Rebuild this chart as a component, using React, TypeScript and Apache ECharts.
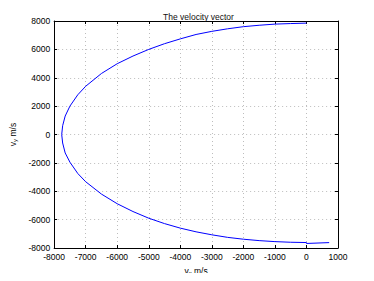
import React, { useEffect, useRef } from "react";
import * as echarts from "echarts";

const titleText = "The velocity vector";
const xTicks = { min: -8000, max: 1000, interval: 1000 };
const yTicks = { min: -8000, max: 8000, interval: 2000 };

const vx = [
  0, -500, -1000, -1500, -2000, -2500, -3000, -3500, -4000, -4500, -5000, -5500, -6000, -6500, -7000, -7250,
  -7500, -7650, -7730, -7760,
  -7730, -7650, -7500, -7250, -7000, -6500, -6000, -5500, -5000, -4500, -4000, -3500, -3000, -2500, -2000,
  -1500, -1000, -500, 0, 0, 720,
];
const vy = [
  7850, 7820, 7780, 7700, 7600, 7450, 7270, 7050, 6740, 6400, 6000, 5530, 4990, 4300, 3400, 2800,
  2000, 1300, 620, 0,
  -600, -1300, -1950, -2750, -3330, -4200, -4880, -5430, -5900, -6280, -6600, -6860, -7070, -7250, -7380,
  -7480, -7550, -7595, -7615, -7680, -7620,
];

const FONT = "'Liberation Sans', Arial, sans-serif";

export default function App() {
  const ref = useRef<HTMLDivElement>(null);
  useEffect(() => {
    if (!ref.current) return;
    const chart = echarts.init(ref.current, null, { renderer: "svg" });
    const data = vx.map((x, i) => [x, vy[i]]);
    const splitLine = { show: true, lineStyle: { color: "#bdbdbd", type: [1, 3] as any, width: 1 } };
    const axisLine = { show: true, onZero: false, lineStyle: { color: "#000", width: 1 } };
    const axisTick = { show: true, inside: true, length: 3, lineStyle: { color: "#000" } };
    const labelStyle = { color: "#000", fontSize: 8.5, fontFamily: FONT, formatter: (v: number) => String(v) };
    const rich = {
      v: { fontSize: 8.5, fontFamily: FONT, color: "#000" },
      s: { fontSize: 6, fontFamily: FONT, color: "#000", verticalAlign: "bottom", padding: [4, 0, 0, 0] },
    };
    chart.setOption({
      animation: false,
      backgroundColor: "#fff",
      title: {
        text: titleText,
        left: 193.5,
        textAlign: "center",
        top: 7,
        textStyle: { fontSize: 8.5, fontWeight: "normal", color: "#111", fontFamily: FONT },
      },
      grid: { left: 49, right: 36, top: 21, bottom: 32, containLabel: false },
      xAxis: [
        {
          type: "value",
          ...xTicks,
          position: "bottom",
          axisLine,
          axisTick,
          splitLine,
          axisLabel: { ...labelStyle, margin: 4 },
          name: "{v|v}{s|x}{v| m/s}",
          nameLocation: "middle",
          nameGap: 18,
          nameTextStyle: { rich },
        },
        {
          type: "value",
          ...xTicks,
          position: "top",
          axisLine,
          axisTick,
          splitLine: { show: false },
          axisLabel: { show: false },
        },
      ],
      yAxis: [
        {
          type: "value",
          ...yTicks,
          position: "left",
          axisLine,
          axisTick,
          splitLine,
          axisLabel: { ...labelStyle, margin: 4 },
          name: "{v|v}{s|y}{v| m/s}",
          nameLocation: "middle",
          nameGap: 34,
          nameTextStyle: { rich },
        },
        {
          type: "value",
          ...yTicks,
          position: "right",
          axisLine,
          axisTick,
          splitLine: { show: false },
          axisLabel: { show: false },
        },
      ],
      series: [
        {
          type: "line",
          data,
          smooth: false,
          showSymbol: false,
          lineStyle: { color: "#0000ff", width: 1 },
          xAxisIndex: 0,
          yAxisIndex: 0,
        },
      ],
    });
    return () => chart.dispose();
  }, []);
  return <div ref={ref} style={{ width: 374, height: 281, margin: -8 }} />;
}
